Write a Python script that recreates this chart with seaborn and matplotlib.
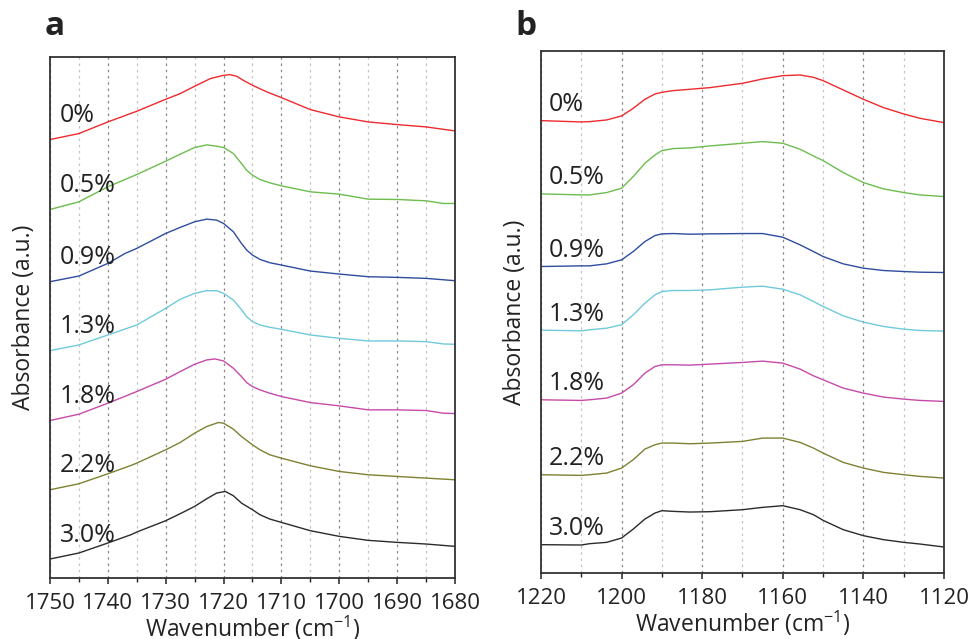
import numpy as np
import pandas as pd
import matplotlib
matplotlib.use("Agg")
import matplotlib.pyplot as plt
from matplotlib.ticker import MultipleLocator
import seaborn as sns

# FTIR spectra (absorbance in a.u., offset stacked)
labels = ["0%", "0.5%", "0.9%", "1.3%", "1.8%", "2.2%", "3.0%"]
colors = ["#ee2a2e", "#6cbd4e", "#2f4c9f", "#6fcadb", "#c64aa9", "#7f8032", "#2b2b2b"]

# panel a: C=O region
wn_a = {
    "0%": [1750, 1745, 1740, 1735, 1730, 1727.5, 1725, 1722.3, 1720, 1718.9, 1717.7, 1716.6, 1715, 1712.5, 1710, 1705, 1700, 1695, 1690, 1685, 1680],
    "0.5%": [1750, 1745, 1740, 1735, 1730, 1727.5, 1725, 1722.9, 1721.2, 1720, 1718.3, 1716.9, 1716, 1715, 1713.7, 1712, 1710, 1705, 1700, 1695, 1690, 1685, 1682, 1680],
    "0.9%": [1750, 1745, 1740, 1737, 1735, 1730, 1727.5, 1725, 1722.9, 1721.2, 1720, 1718.3, 1716.9, 1716, 1715, 1713.7, 1712, 1710, 1705, 1700, 1695, 1690, 1685, 1680],
    "1.3%": [1750, 1745, 1740, 1735, 1730, 1727.5, 1725, 1722.9, 1721.2, 1720, 1718.3, 1716.9, 1716, 1715, 1713.7, 1712, 1710, 1705, 1700, 1695, 1690, 1685, 1682, 1680],
    "1.8%": [1750, 1745, 1740, 1735, 1730, 1727.5, 1725, 1722.9, 1721.5, 1720, 1718.3, 1716.9, 1716, 1715, 1713.7, 1712, 1710, 1705, 1700, 1695, 1690, 1685, 1682, 1680],
    "2.2%": [1750, 1745, 1740, 1736, 1735, 1730, 1727.5, 1725, 1722.9, 1720.9, 1720, 1718.3, 1716.9, 1715, 1713.7, 1712, 1710, 1705, 1700, 1695, 1690, 1685, 1680],
    "3.0%": [1750, 1745, 1740, 1736, 1735, 1730, 1727.5, 1725, 1722.9, 1721.2, 1719.7, 1718.3, 1716.9, 1715, 1713.7, 1712, 1710, 1705, 1700, 1695, 1690, 1685, 1680],
}
abs_a = {
    "0%": [13.17, 13.35, 13.70, 14.02, 14.38, 14.55, 14.77, 15.00, 15.10, 15.12, 15.07, 14.95, 14.80, 14.60, 14.43, 14.07, 13.85, 13.70, 13.62, 13.55, 13.43],
    "0.5%": [11.07, 11.30, 11.75, 12.12, 12.52, 12.73, 12.93, 13.01, 12.97, 12.93, 12.75, 12.45, 12.25, 12.10, 11.97, 11.87, 11.78, 11.60, 11.53, 11.38, 11.37, 11.33, 11.25, 11.25],
    "0.9%": [8.90, 9.07, 9.45, 9.75, 9.90, 10.35, 10.53, 10.70, 10.78, 10.75, 10.65, 10.40, 10.05, 9.85, 9.70, 9.57, 9.47, 9.40, 9.22, 9.13, 9.05, 9.03, 9.00, 8.93],
    "1.3%": [6.83, 7.00, 7.30, 7.60, 8.10, 8.37, 8.55, 8.63, 8.63, 8.55, 8.35, 8.06, 7.85, 7.70, 7.60, 7.53, 7.47, 7.30, 7.20, 7.12, 7.12, 7.10, 7.03, 7.02],
    "1.8%": [4.73, 4.92, 5.25, 5.60, 5.97, 6.20, 6.42, 6.55, 6.58, 6.52, 6.30, 6.05, 5.87, 5.75, 5.65, 5.55, 5.45, 5.27, 5.17, 5.05, 5.05, 5.03, 4.95, 4.94],
    "2.2%": [2.65, 2.83, 3.13, 3.38, 3.45, 3.85, 4.07, 4.35, 4.55, 4.67, 4.65, 4.47, 4.25, 4.00, 3.85, 3.70, 3.60, 3.37, 3.20, 3.10, 3.05, 3.00, 2.95],
    "3.0%": [0.57, 0.75, 1.05, 1.30, 1.38, 1.72, 1.93, 2.15, 2.38, 2.55, 2.60, 2.47, 2.25, 2.05, 1.90, 1.77, 1.67, 1.42, 1.25, 1.13, 1.07, 1.02, 0.95],
}

# panel b: C-O-C region
wn_b = [1220, 1210, 1207.9, 1203.7, 1200, 1197.1, 1194.2, 1191.7, 1190, 1187.2, 1183.1, 1178.1,
        1170, 1165, 1160, 1155.7, 1152.4, 1150, 1145, 1140, 1135, 1130, 1126, 1120]
abs_b = {
    "0%": [13.58, 13.54, 13.55, 13.60, 13.72, 13.95, 14.22, 14.38, 14.43, 14.48, 14.52, 14.57,
           14.70, 14.83, 14.93, 14.95, 14.88, 14.78, 14.50, 14.22, 13.97, 13.78, 13.65, 13.52],
    "0.5%": [11.38, 11.35, 11.35, 11.42, 11.55, 11.90, 12.30, 12.55, 12.68, 12.74, 12.76, 12.82,
             12.90, 12.95, 12.90, 12.72, 12.52, 12.38, 12.02, 11.72, 11.53, 11.42, 11.35, 11.30],
    "0.9%": [9.20, 9.22, 9.22, 9.28, 9.40, 9.65, 9.95, 10.13, 10.18, 10.19, 10.17, 10.18,
             10.19, 10.19, 10.08, 9.85, 9.65, 9.50, 9.28, 9.15, 9.08, 9.05, 9.03, 9.02],
    "1.3%": [7.29, 7.27, 7.30, 7.35, 7.45, 7.75, 8.10, 8.35, 8.45, 8.48, 8.48, 8.50,
             8.58, 8.61, 8.52, 8.35, 8.15, 8.00, 7.72, 7.53, 7.40, 7.32, 7.28, 7.26],
    "1.8%": [5.20, 5.18, 5.20, 5.25, 5.40, 5.65, 6.00, 6.20, 6.25, 6.25, 6.24, 6.27,
             6.32, 6.36, 6.30, 6.12, 5.92, 5.80, 5.55, 5.40, 5.28, 5.22, 5.18, 5.15],
    "2.2%": [2.95, 2.93, 2.95, 3.00, 3.15, 3.40, 3.72, 3.85, 3.90, 3.90, 3.88, 3.90,
             3.95, 4.05, 4.05, 3.92, 3.75, 3.60, 3.32, 3.15, 3.02, 2.95, 2.90, 2.85],
    "3.0%": [0.85, 0.84, 0.88, 0.92, 1.05, 1.32, 1.62, 1.80, 1.87, 1.85, 1.83, 1.84,
             1.90, 1.97, 2.02, 1.90, 1.75, 1.58, 1.30, 1.12, 1.00, 0.92, 0.87, 0.78],
}

sns.set_style("ticks")
plt.rcParams["font.family"] = ["Open Sans", "DejaVu Sans"]
plt.rcParams["mathtext.fontset"] = "custom"
plt.rcParams["mathtext.rm"] = "Open Sans"
plt.rcParams["mathtext.it"] = "Open Sans:italic"
plt.rcParams["text.color"] = "#222222"
plt.rcParams["axes.labelcolor"] = "#222222"
plt.rcParams["xtick.color"] = "#222222"


def long_frame(wn, vals):
    rows = []
    for lab in labels:
        x = wn[lab] if isinstance(wn, dict) else wn
        for xi, yi in zip(x, vals[lab]):
            rows.append((lab, xi, yi))
    return pd.DataFrame(rows, columns=["sample", "wavenumber", "absorbance"])


df_a = long_frame(wn_a, abs_a)
df_b = long_frame(wn_b, abs_b)

fig = plt.figure(figsize=(9.74, 6.39), dpi=100)
ax_a = fig.add_axes([0.0513, 0.0955, 0.4158, 0.8153])
ax_b = fig.add_axes([0.5554, 0.1033, 0.4138, 0.8169])

panels = [
    (ax_a, df_a, (1750, 1680), 10, 5, (0, 15.65), 0.72, 0.025, "a", -0.012, 1.058),
    (ax_b, df_b, (1220, 1120), 20, 10, (0, 15.67), 0.48, 0.02, "b", -0.063, 1.046),
]

for ax, df, xlim, major, minor, ylim, off, tx, tag, gx, gy in panels:
    sns.lineplot(data=df, x="wavenumber", y="absorbance", hue="sample",
                 hue_order=labels, palette=colors, estimator=None, sort=False,
                 lw=1.0, legend=False, ax=ax)
    ax.set_xlim(*xlim)
    ax.set_ylim(*ylim)
    ax.xaxis.set_major_locator(MultipleLocator(major))
    ax.xaxis.set_minor_locator(MultipleLocator(minor))
    ax.grid(axis="x", which="major", ls=(0, (2, 3)), lw=0.9, color="#888888")
    ax.grid(axis="x", which="minor", ls=(0, (2, 3)), lw=0.9, color="#c4c4c4")
    ax.set_yticks([])
    for s in ax.spines.values():
        s.set_visible(True)
        s.set_linewidth(1.3)
        s.set_color("#333333")
    ax.tick_params(axis="x", which="major", direction="out", length=4, width=1.1,
                   labelsize=16, pad=7)
    ax.tick_params(axis="x", which="minor", direction="out", length=3, width=1.0)
    ax.set_xlabel("Wavenumber (cm$^{-1}$)", fontsize=16.5, labelpad=0)
    ax.set_ylabel("Absorbance (a.u.)", fontsize=16.5, labelpad=10)
    for lab in labels:
        y0 = df[df["sample"] == lab]["absorbance"].iloc[0]
        ax.text(tx, y0 + off, lab, transform=ax.get_yaxis_transform(),
                fontsize=18, va="center", ha="left", color="#222222")
    ax.text(gx, gy, tag, transform=ax.transAxes, fontsize=24,
            fontweight="bold", va="center", ha="left", color="#222222")

fig.savefig("out.png", dpi=100)
